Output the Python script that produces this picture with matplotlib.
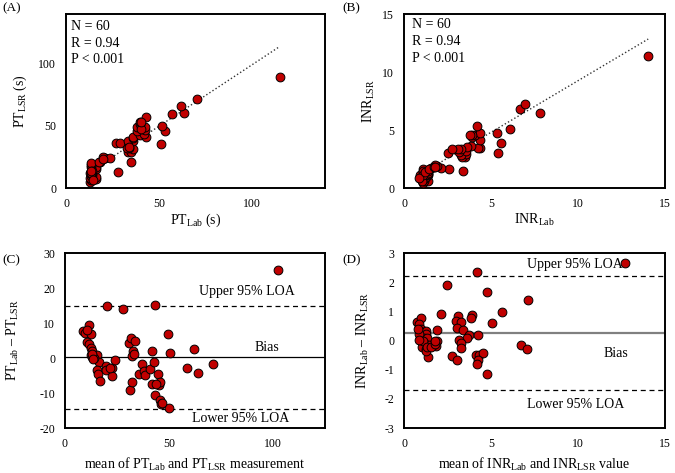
import numpy as np
import matplotlib
matplotlib.use('Agg')
import matplotlib.pyplot as plt

plt.rcParams['font.family'] = ['Liberation Serif', 'DejaVu Serif']
plt.rcParams['mathtext.fontset'] = 'custom'
plt.rcParams['mathtext.rm'] = 'Liberation Serif'
plt.rcParams['mathtext.it'] = 'Liberation Serif:italic'
plt.rcParams['mathtext.bf'] = 'Liberation Serif:bold'
plt.rcParams['axes.unicode_minus'] = False

# ---- PT Bland-Altman data (mean, difference Lab - LSR) ----
pt_mean = [102.2, 20.3, 27.9, 43.4, 49.4, 11.6, 8.8, 9.6, 12.4, 10.4,
           11.3, 12.3, 13.1, 12.3, 13.2, 15.6, 16.4, 15.2, 15.9, 16.7,
           19.6, 19.5, 22.6, 22.5, 23.8, 30.9, 31.9, 33.5, 32.9, 32.4,
           31.4, 32.4, 37.0, 35.6, 38.0, 38.6, 41.1, 41.9, 42.6, 41.9,
           43.5, 44.8, 45.1, 45.8, 45.8, 46.3, 49.9, 50.6, 58.5, 62.0,
           63.8, 71.1, 14.0, 12.9, 13.6, 43.9, 46.7, 21.5, 33.2, 10.7]
pt_diff = [25.2, 14.8, 14.1, 15.2, 7.0, 9.3, 7.7, 7.1, 6.9, 4.6,
           3.9, 2.9, 2.0, 0.8, 0.3, 1.0, -1.1, -3.5, -4.5, -6.6,
           -2.3, -3.5, -2.9, -5.0, -0.6, 4.3, 5.7, 4.9, 1.9, 0.5,
           -9.0, -6.9, -1.6, -4.5, -3.8, -4.8, -3.0, 1.9, -1.1, -7.3,
           -10.7, -4.5, -7.8, -6.9, -12.1, -13.2, -14.2, 1.5, -2.8, 2.7,
           -4.3, -1.6, 0.0, 1.2, -0.4, -7.5, -12.9, -2.9, 1.2, 8.1]
pt_bias, pt_upper, pt_lower = 0.2, 15.0, -14.6
pt_trend_slope, pt_trend_icpt = 0.99, 0.3

# ---- INR Bland-Altman data (mean, difference Lab - LSR) ----
inr_mean = [12.7, 4.2, 2.45, 4.75, 7.13, 5.61, 5.06, 2.13, 3.1, 3.92,
            3.86, 3.0, 3.25, 3.06, 3.38, 1.92, 3.76, 4.24, 3.6, 3.14,
            3.29, 3.25, 2.76, 3.06, 1.92, 1.86, 1.65, 1.39, 4.14, 4.33,
            4.56, 4.24, 4.2, 4.79, 6.73, 7.09, 0.76, 1.0, 0.87, 0.95,
            1.1, 1.24, 1.0, 1.29, 1.14, 1.31, 1.0, 1.16, 1.05, 1.24,
            1.25, 0.89, 1.43, 0.82, 1.12, 0.87, 1.31, 1.54, 1.77, 1.77]
inr_diff = [2.67, 2.35, 1.92, 1.66, 1.39, 0.97, 0.60, 0.91, 0.85, 0.89,
            0.77, 0.68, 0.63, 0.42, 0.36, 0.37, 0.20, 0.20, 0.07, 0.03,
            -0.07, -0.26, -0.52, -0.66, -0.03, -0.18, -0.14, -0.56, -0.49, -0.49,
            -0.43, -0.66, -0.81, -1.14, -0.14, -0.29, 0.65, 0.77, 0.57, 0.40,
            0.28, 0.32, 0.17, 0.22, 0.09, 0.09, -0.03, -0.10, -0.21, -0.29,
            -0.35, 0.22, -0.15, 0.40, -0.01, 0.02, -0.21, -0.21, -0.12, -0.03]
inr_bias, inr_upper, inr_lower = 0.25, 2.2, -1.7
inr_trend_slope, inr_trend_icpt = 0.89, 0.35

stats_text = ["N = 60", "R = 0.94", "P < 0.001"]

# paired measurements (Lab, LSR) recovered from mean and difference
pt_m, pt_d = np.array(pt_mean), np.array(pt_diff)
pt_lab, pt_lsr = pt_m + pt_d / 2, pt_m - pt_d / 2
inr_m, inr_d = np.array(inr_mean), np.array(inr_diff)
inr_lab, inr_lsr = inr_m + inr_d / 2, inr_m - inr_d / 2

W, H = 675, 473
fig = plt.figure(figsize=(W / 100, H / 100), dpi=100)


def rect(x0, y0, x1, y1):
    return [x0 / W, 1 - y1 / H, (x1 - x0) / W, (y1 - y0) / H]


RED = '#C00000'
MS = 40
TICK_FS = 8.5
LAB_FS = 10


def style(ax):
    for s in ax.spines.values():
        s.set_linewidth(1.4)
        s.set_color('black')
    ax.tick_params(length=0, labelsize=TICK_FS)
    ax.tick_params(axis='x', pad=7)
    ax.tick_params(axis='y', pad=7)


def scat(ax, x, y):
    ax.scatter(x, y, s=MS, c=RED, edgecolors='black', linewidths=0.7, zorder=3)


# ---------------- Panel A ----------------
axA = fig.add_axes(rect(66, 14, 325, 188))
style(axA)
scat(axA, pt_lab, pt_lsr)
tx = np.array([pt_lab.min(), pt_lab.max()])
axA.plot(tx, pt_trend_slope * tx + pt_trend_icpt, color='#333333', ls=':', lw=1.0, zorder=2)
axA.set_xlim(0, 139)
axA.set_ylim(0, 140)
axA.set_xticks([0, 50, 100])
axA.set_yticks([0, 50, 100])
axA.set_xlabel(r'PT$_{\mathrm{Lab}}$ (s)', fontsize=LAB_FS)
axA.set_ylabel(r'PT$_{\mathrm{LSR}}$ (s)', fontsize=LAB_FS)
axA.xaxis.set_label_coords(0.5, -0.135)
axA.yaxis.set_label_coords(-0.143, 0.5)
for t, yy in zip(stats_text, [0.931, 0.833, 0.739]):
    axA.text(0.021, yy, t, transform=axA.transAxes, fontsize=10, va='center', ha='left')

# ---------------- Panel B ----------------
axB = fig.add_axes(rect(404, 14, 665, 188))
style(axB)
scat(axB, inr_lab, inr_lsr)
tx = np.array([inr_lab.min(), inr_lab.max()])
axB.plot(tx, inr_trend_slope * tx + inr_trend_icpt, color='#333333', ls=':', lw=1.0, zorder=2)
axB.set_xlim(0, 15)
axB.set_ylim(0, 15)
axB.set_xticks([0, 5, 10, 15])
axB.set_yticks([0, 5, 10, 15])
axB.set_xlabel(r'INR$_{\mathrm{Lab}}$', fontsize=LAB_FS)
axB.set_ylabel(r'INR$_{\mathrm{LSR}}$', fontsize=LAB_FS)
axB.xaxis.set_label_coords(0.5, -0.14)
axB.yaxis.set_label_coords(-0.103, 0.5)
for t, yy in zip(stats_text, [0.937, 0.841, 0.745]):
    axB.text(0.031, yy, t, transform=axB.transAxes, fontsize=10, va='center', ha='left')

# ---------------- Panel C ----------------
axC = fig.add_axes(rect(65, 253, 325, 428))
style(axC)
axC.axhline(pt_bias, color='black', lw=0.9, zorder=1)
axC.axhline(pt_upper, color='black', lw=0.9, ls=(0, (4, 3)), zorder=1)
axC.axhline(pt_lower, color='black', lw=0.9, ls=(0, (4, 3)), zorder=1)
scat(axC, pt_m, pt_d)
axC.set_xlim(0, 125)
axC.set_ylim(-20, 30)
axC.set_xticks([0, 50, 100])
axC.set_yticks([-20, -10, 0, 10, 20, 30])
axC.text(87.2, 18.9, 'Upper 95% LOA', fontsize=10, ha='center', va='center')
axC.text(97.3, 2.95, 'Bias', fontsize=10, ha='center', va='center')
axC.text(84.5, -17.3, 'Lower 95% LOA', fontsize=10, ha='center', va='center')
axC.set_xlabel(r'mean of PT$_{\mathrm{Lab}}$ and PT$_{\mathrm{LSR}}$ measurement', fontsize=LAB_FS)
axC.set_ylabel(r'PT$_{\mathrm{Lab}}$ – PT$_{\mathrm{LSR}}$', fontsize=LAB_FS)
axC.xaxis.set_label_coords(0.5, -0.158)
axC.yaxis.set_label_coords(-0.169, 0.5)

# ---------------- Panel D ----------------
axD = fig.add_axes(rect(404, 253, 665, 428))
style(axD)
axD.axhline(inr_bias, color='#808080', lw=1.6, zorder=1)
axD.axhline(inr_upper, color='black', lw=0.9, ls=(0, (4, 3)), zorder=1)
axD.axhline(inr_lower, color='black', lw=0.9, ls=(0, (4, 3)), zorder=1)
scat(axD, inr_m, inr_d)
axD.set_xlim(0, 15)
axD.set_ylim(-3, 3)
axD.set_xticks([0, 5, 10, 15])
axD.set_yticks([-3, -2, -1, 0, 1, 2, 3])
axD.text(9.8, 2.61, 'Upper 95% LOA', fontsize=10, ha='center', va='center')
axD.text(12.2, -0.46, 'Bias', fontsize=10, ha='center', va='center')
axD.text(9.85, -2.18, 'Lower 95% LOA', fontsize=10, ha='center', va='center')
axD.set_xlabel(r'mean of INR$_{\mathrm{Lab}}$ and INR$_{\mathrm{LSR}}$ value', fontsize=LAB_FS)
axD.set_ylabel(r'INR$_{\mathrm{Lab}}$ – INR$_{\mathrm{LSR}}$', fontsize=LAB_FS)
axD.xaxis.set_label_coords(0.5, -0.158)
axD.yaxis.set_label_coords(-0.126, 0.5)

# panel letters
for lab, (px, py) in zip(['(A)', '(B)', '(C)', '(D)'],
                         [(2, 8), (342, 8), (2, 260), (342, 260)]):
    fig.text(px / W, 1 - py / H, lab, fontsize=9.5, ha='left', va='center')

fig.savefig('out.png', dpi=100)
